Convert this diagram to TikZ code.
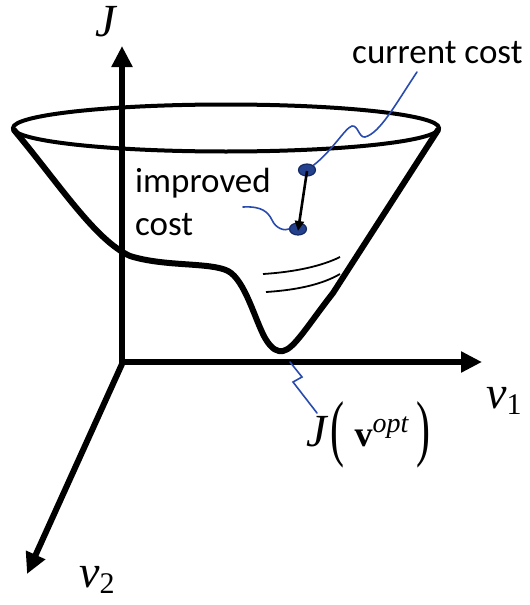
\documentclass[tikz,border=0pt]{standalone}
\usepackage{fontspec}
\usepackage{graphicx}
\setmainfont{Carlito}
\newfontfamily\tnr{Liberation Serif}
\usetikzlibrary{arrows.meta,shapes.geometric}
\definecolor{leader}{RGB}{40,75,175}
\definecolor{dotfill}{RGB}{35,65,140}
\definecolor{dotline}{RGB}{20,40,100}
\tikzset{
  axis/.style={line width=6pt,-{Triangle[length=21pt,width=20pt]}},
  bowl/.style={line width=6pt,line join=round,line cap=round},
  rim/.style={line width=4pt},
  leadline/.style={leader,line width=1.6pt,line cap=round},
  costdot/.style={ellipse,draw=dotline,fill=dotfill,line width=1.2pt,minimum width=17pt,minimum height=12pt,inner sep=0pt},
  lbl/.style={inner sep=0pt,anchor=base west,font=\fontsize{35}{40}\selectfont},
  mlbl/.style={inner sep=0pt,font=\tnr\itshape\fontsize{46}{50}\selectfont}
}
\newcommand{\bigparen}[1]{\raisebox{-6pt}{\scalebox{1}[1.75]{\tnr\upshape\fontsize{42}{46}\selectfont #1}}}
\begin{document}
\begin{tikzpicture}[x=1pt,y=-1pt]
\useasboundingbox (0,0) rectangle (530,605);
% bowl
\draw[rim] (226,128) ellipse [x radius=213, y radius=23.5];
\draw[bowl] (14,130) .. controls (60,185) and (95,240) .. (130,256)
  .. controls (165,267) and (210,262) .. (228,271)
  .. controls (245,280) and (255,320) .. (265,338)
  .. controls (272,350) and (278,352) .. (283,351)
  .. controls (294,349) and (308,325) .. (333,293) -- (438,130);
% contour lines
\draw[line width=1.8pt] (263,274) .. controls (295,272) and (322,266) .. (340,257);
\draw[line width=1.8pt] (266,292) .. controls (298,290) and (323,284) .. (340,274);
% axes
\coordinate (O) at (122,362);
\coordinate (Jtip) at (122,46);
\coordinate (v1tip) at (482,362);
\coordinate (v2tip) at (27,574);
\draw[axis] ([yshift=3pt]O) -- (Jtip);
\draw[axis] ([xshift=-3pt]O) -- (v1tip);
\draw[axis] ([yshift=-2pt]O) -- (v2tip);
% labels on axes
\node[mlbl] (J) at (106,22) {J};
\node[mlbl,anchor=base west] (v1) at (486,408) {v\raisebox{-0.3ex}{\upshape\fontsize{30}{30}\selectfont 1}};
\node[mlbl,anchor=base west] (v2) at (79,587) {v\raisebox{-0.3ex}{\upshape\fontsize{30}{30}\selectfont 2}};
\node[inner sep=0pt,anchor=base west] (Jopt) at (306,446)
  {{\tnr\itshape\fontsize{46}{48}\selectfont J}\hspace{4pt}\bigparen{(}\hspace{10pt}{\tnr\bfseries\fontsize{36}{40}\selectfont v}\raisebox{14pt}{\tnr\itshape\fontsize{28}{30}\selectfont opt}\hspace{8pt}\bigparen{)}};
% cost dots
\node[costdot] (cur) at (307,170) {};
\node[costdot] (imp) at (298,229) {};
\draw[line width=2.6pt,-{Triangle[length=10pt,width=9pt]}] ([yshift=-1pt]cur.center) -- ([yshift=-2pt]imp.center);
% text labels
\node[lbl] (curtxt) at (352,63) {current cost};
\node[lbl] (imptxt) at (135,192) {improved};
\node[lbl] (costtxt) at (135,235) {cost};
% leaders
\coordinate (curend) at (417,72);
\coordinate (impend) at (243,207);
\coordinate (optA) at (290,362);
\coordinate (optB) at (317,413);
\draw[leadline] (cur.north east) .. controls (333,150) and (345,128) .. (352,126)
  .. controls (358,125) and (359,138) .. (365,137)
  .. controls (380,133) and (395,105) .. (curend);
\draw[leadline] (impend) .. controls (262,206) and (268,212) .. (272,220)
  .. controls (276,229) and (285,231) .. (imp.west);
\draw[leadline] (optA) -- (302,377) -- (293,382) -- (optB);
\end{tikzpicture}
\end{document}
